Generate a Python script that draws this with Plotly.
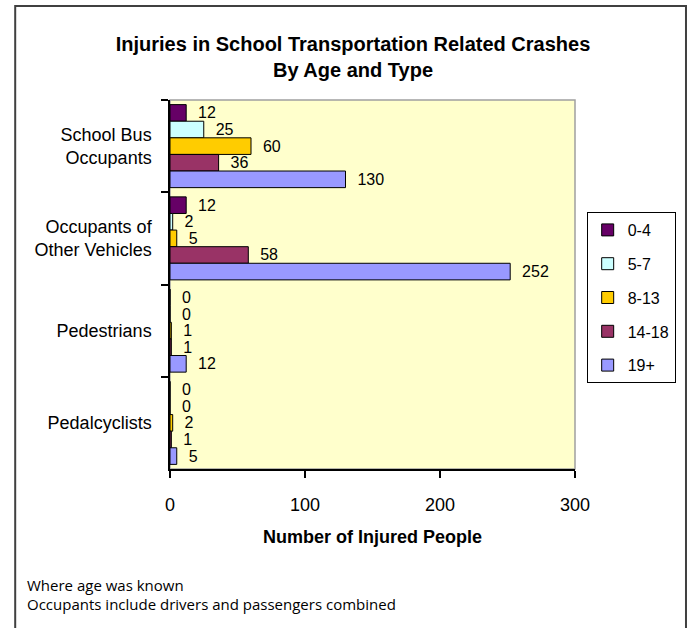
import plotly.graph_objects as go

categories = ["School Bus<br>Occupants", "Occupants of<br>Other Vehicles", "Pedestrians", "Pedalcyclists"]
age_groups = ["0-4", "5-7", "8-13", "14-18", "19+"]
values_0_4 = [12, 12, 0, 0]
values_5_7 = [25, 2, 0, 0]
values_8_13 = [60, 5, 1, 2]
values_14_18 = [36, 58, 1, 1]
values_19_plus = [130, 252, 12, 5]
series = [values_0_4, values_5_7, values_8_13, values_14_18, values_19_plus]
colors = ["#660066", "#CCFFFF", "#FFCC00", "#993366", "#9999FF"]
x_ticks = [0, 100, 200, 300]

FONT = "Liberation Sans, Arial, sans-serif"
NOTE_FONT = "Open Sans, Noto Sans, DejaVu Sans, sans-serif"

fig = go.Figure()
for name, vals, col in zip(age_groups, series, colors):
    fig.add_trace(go.Bar(
        y=categories, x=vals, name=name, orientation="h",
        marker=dict(color=col, line=dict(color="#000000", width=1)),
        text=vals, texttemplate="\u00a0\u00a0%{x}", textposition="outside",
        textfont=dict(family=FONT, size=16, color="#000000"),
        constraintext="none", cliponaxis=False, legendgroup=name,
    ))

L, T, PW, PH = 170, 100, 416, 369

fig.update_layout(
    width=688, height=628, autosize=False,
    margin=dict(l=L, r=688 - L - PW, t=T, b=628 - T - PH, pad=0),
    paper_bgcolor="#FFFFFF", plot_bgcolor="#FFFFCC",
    barmode="group", bargap=0.1, bargroupgap=0,
    font=dict(family=FONT, size=16, color="#000000"),
    title=dict(
        text="<b>Injuries in School Transportation Related Crashes<br>By Age and Type</b>",
        font=dict(family=FONT, size=20, color="#000000"),
        x=353 / 688, xanchor="center", xref="container",
        y=1 - 51 / 628, yanchor="top", yref="container",
    ),
    xaxis=dict(
        range=[0, 300], tickvals=x_ticks, showgrid=False, zeroline=False,
        showline=True, linecolor="#000000", linewidth=1.5,
        ticks="outside", ticklen=7, tickcolor="#000000", tickwidth=1.5,
        tickfont=dict(family=FONT, size=18, color="#000000"),
        ticklabelstandoff=12,
        title=dict(text="<b>Number of Injured People</b>", standoff=16,
                   font=dict(family=FONT, size=18, color="#000000")),
        automargin=False,
    ),
    yaxis=dict(
        autorange="reversed", showgrid=False, zeroline=False,
        showline=True, linecolor="#000000", linewidth=1.5,
        ticks="outside", ticklen=7, tickcolor="#000000", tickwidth=1.5,
        tickson="boundaries",
        tickfont=dict(family=FONT, size=18, color="#000000"),
        ticklabelstandoff=13, automargin=False,
    ),
    legend=dict(
        x=(598 - L) / PW, xanchor="left", y=(T + PH - 212) / PH, yanchor="top",
        bgcolor="#FFFFFF", bordercolor="#000000", borderwidth=1,
        font=dict(family=FONT, size=16, color="#000000"),
        traceorder="grouped", tracegroupgap=10,
    ),
    showlegend=True,
)

# plot-area border (grey) and outer chart frame
fig.add_shape(type="rect", xref="paper", yref="paper", x0=0, y0=0, x1=1, y1=1,
              line=dict(color="#A0A0A0", width=1.5), layer="below")
fig.add_shape(type="rect", xref="paper", yref="paper",
              x0=(11 - L) / PW, x1=(700 - L) / PW,
              y0=(T + PH - 645) / PH, y1=(T + PH - 6) / PH,
              line=dict(color="#404040", width=2), layer="below")

fig.add_annotation(text="Where age was known", xref="paper", yref="paper",
                   x=(21 - L) / PW, y=(T + PH - 585) / PH, xanchor="left", yanchor="middle",
                   showarrow=False, font=dict(family=NOTE_FONT, size=15, color="#000000"))
fig.add_annotation(text="Occupants include drivers and passengers combined", xref="paper", yref="paper",
                   x=(21 - L) / PW, y=(T + PH - 604) / PH, xanchor="left", yanchor="middle",
                   showarrow=False, font=dict(family=NOTE_FONT, size=15, color="#000000"))

fig.write_html("out.html", config={"displayModeBar": False},
               post_script="document.body.style.margin='0';document.body.style.overflow='hidden';")
